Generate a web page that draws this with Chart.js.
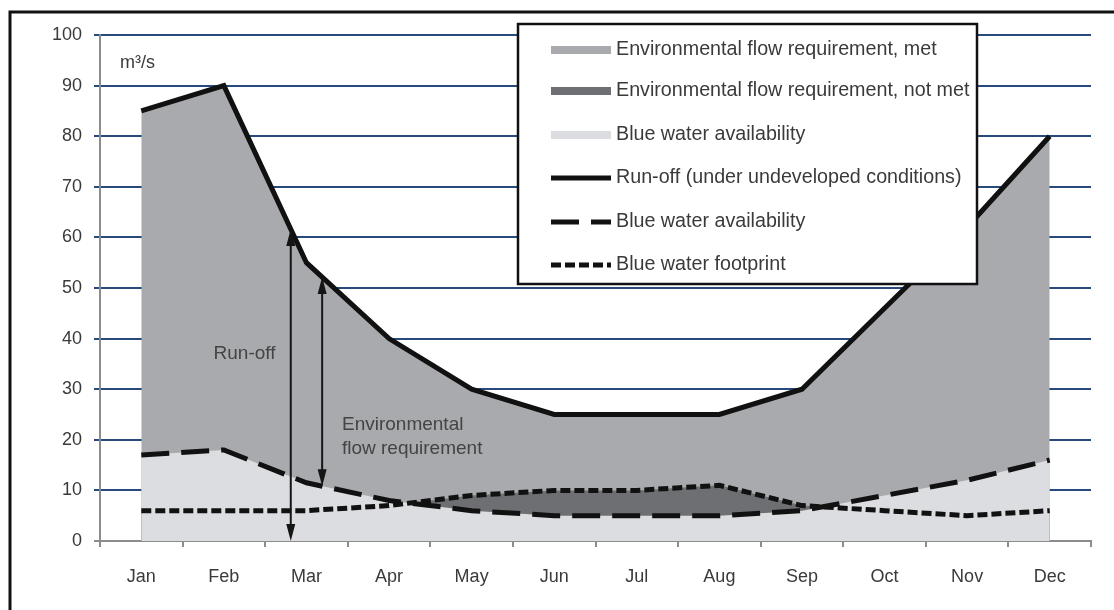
<!DOCTYPE html>
<html><head><meta charset="utf-8">
<script src="https://cdn.jsdelivr.net/npm/chart.js@4.4.1/dist/chart.umd.min.js"></script>
<style>html,body{margin:0;padding:0;background:#fff;}canvas{display:block;}</style>
</head><body>
<canvas id="c" width="1114" height="610" style="width:1114px;height:610px"></canvas>
<script>
// ---- data ----
const months = ['Jan','Feb','Mar','Apr','May','Jun','Jul','Aug','Sep','Oct','Nov','Dec'];
const runoff = [85, 90, 55, 40, 30, 25, 25, 25, 30, 46, 62, 80];
const availability = [17, 18, 11.5, 8, 6, 5, 5, 5, 6, 9, 12, 16];
const footprint = [6, 6, 6, 7, 9, 10, 10, 11, 7, 6, 5, 6];
const yMin = 0, yMax = 100, yStep = 10;
const unitLabel = 'm³/s';
const legendLabels = [
  'Environmental flow requirement, met',
  'Environmental flow requirement, not met',
  'Blue water availability',
  'Run-off (under undeveloped conditions)',
  'Blue water availability',
  'Blue water footprint'
];
const annoRunoffText = ['Run-off'];
const annoEfrText = ['Environmental', 'flow requirement'];
// arrow positions in category units (between Feb and Mar)
const runoffArrowAt = 1.81;
const efrArrowAt = 2.19;

// ---- style ----
const FONT = "'Liberation Sans', Arial, sans-serif";
const metColor = '#a8aaad';
const notMetColor = '#6e6f72';
const lightColor = '#dcdde0';
const gridColor = '#28497c';
const axisColor = '#8c8c8c';
const textColor = '#3a3a3a';

function interp(arr, t) {
  const i = Math.floor(t), f = t - i;
  return arr[i] + (arr[Math.min(i + 1, arr.length - 1)] - arr[i]) * f;
}

function head(ctx, px, py, dir) {
  ctx.beginPath();
  ctx.moveTo(px, py);
  ctx.lineTo(px - 4.5, py - dir * 17);
  ctx.lineTo(px + 4.5, py - dir * 17);
  ctx.closePath();
  ctx.fill();
}
function arrow(ctx, px, yBottom, yTop) {
  ctx.beginPath();
  ctx.moveTo(px, yBottom - 6);
  ctx.lineTo(px, yTop + 6);
  ctx.stroke();
  head(ctx, px, yTop, -1);
  head(ctx, px, yBottom, 1);
}

const decor = {
  id: 'decor',
  afterDatasetsDraw(chart) {
    const { ctx } = chart;
    const x = chart.scales.x, y = chart.scales.y;
    ctx.save();
    ctx.strokeStyle = '#151515';
    ctx.fillStyle = '#151515';
    ctx.lineWidth = 2;
    // Run-off arrow
    const rx = x.getPixelForValue(runoffArrowAt);
    arrow(ctx, rx, y.getPixelForValue(0), y.getPixelForValue(interp(runoff, runoffArrowAt)));
    // EFR arrow
    const ex = x.getPixelForValue(efrArrowAt);
    arrow(ctx, ex, y.getPixelForValue(interp(availability, efrArrowAt)), y.getPixelForValue(interp(runoff, efrArrowAt)));
    // annotation texts
    ctx.fillStyle = '#444';
    ctx.font = '19px ' + FONT;
    ctx.textBaseline = 'middle';
    ctx.textAlign = 'center';
    ctx.fillText(annoRunoffText[0], x.getPixelForValue(1.25), y.getPixelForValue(37.0));
    ctx.textAlign = 'left';
    ctx.fillText(annoEfrText[0], x.getPixelForValue(2.43), y.getPixelForValue(23.0));
    ctx.fillText(annoEfrText[1], x.getPixelForValue(2.43), y.getPixelForValue(18.3));
    // unit label
    ctx.fillStyle = textColor;
    ctx.font = '18px ' + FONT;
    ctx.fillText(unitLabel, chart.chartArea.left + 20, y.getPixelForValue(94.5));
    ctx.restore();
  },
  afterDraw(chart) {
    const { ctx } = chart;
    ctx.save();
    // legend box
    const bx = 518, by = 24, bw = 459, bh = 260;
    ctx.fillStyle = '#fff';
    ctx.fillRect(bx, by, bw, bh);
    ctx.strokeStyle = '#111';
    ctx.lineWidth = 2.5;
    ctx.strokeRect(bx, by, bw, bh);
    const styles = [
      { c: metColor, w: 8, d: [] },
      { c: notMetColor, w: 8, d: [] },
      { c: lightColor, w: 8, d: [] },
      { c: '#111', w: 5, d: [] },
      { c: '#111', w: 5, d: [28, 12] },
      { c: '#111', w: 5, d: [10, 4] }
    ];
    ctx.font = '19.7px ' + FONT;
    ctx.textBaseline = 'middle';
    ctx.textAlign = 'left';
    const rows = [50, 91, 135, 178, 222, 265];
    legendLabels.forEach((lab, i) => {
      const ry = rows[i];
      const s = styles[i];
      ctx.beginPath();
      ctx.strokeStyle = s.c;
      ctx.lineWidth = s.w;
      ctx.setLineDash(s.d);
      ctx.lineCap = 'butt';
      ctx.moveTo(551, ry);
      ctx.lineTo(611, ry);
      ctx.stroke();
      ctx.setLineDash([]);
      ctx.fillStyle = textColor;
      ctx.fillText(lab, 616, ry);
    });
    // outer frame (left and top)
    ctx.strokeStyle = '#111';
    ctx.lineWidth = 3;
    ctx.beginPath();
    ctx.moveTo(10, 620);
    ctx.lineTo(10, 12);
    ctx.lineTo(1120, 12);
    ctx.stroke();
    ctx.restore();
  }
};

Chart.defaults.font.family = FONT;
Chart.defaults.color = textColor;

new Chart(document.getElementById('c'), {
  type: 'line',
  data: {
    labels: months,
    datasets: [
      { label: 'Blue water availability', data: availability, borderColor: '#111', borderWidth: 5,
        borderDash: [28, 12], backgroundColor: lightColor, fill: 'origin', pointRadius: 0, tension: 0 },
      { label: 'Blue water footprint', data: footprint, borderColor: '#111', borderWidth: 5,
        borderDash: [10, 4], backgroundColor: notMetColor, fill: 'origin', pointRadius: 0, tension: 0 },
      { label: 'Run-off (under undeveloped conditions)', data: runoff, borderColor: '#111', borderWidth: 5,
        backgroundColor: metColor, fill: 'origin', pointRadius: 0, tension: 0 }
    ]
  },
  options: {
    responsive: false,
    animation: false,
    devicePixelRatio: 1,
    layout: { padding: { left: 0, top: 35, right: 23, bottom: 0 } },
    plugins: {
      legend: { display: false },
      tooltip: { enabled: false },
      filler: { drawTime: 'beforeDatasetsDraw' }
    },
    scales: {
      x: {
        type: 'category',
        offset: true,
        grid: { offset: true, drawOnChartArea: false, drawTicks: true, tickLength: 6, color: axisColor, lineWidth: 2 },
        border: { color: axisColor, width: 2 },
        ticks: { font: { size: 18 }, color: textColor, padding: 19, maxRotation: 0 },
        afterFit: s => { s.height = 69; }
      },
      y: {
        min: yMin, max: yMax,
        grid: {
          color: c => c.tick && c.tick.value === 0 ? 'rgba(0,0,0,0)' : gridColor,
          tickColor: c => c.tick && c.tick.value === 0 ? axisColor : gridColor,
          lineWidth: 2, tickLength: 6
        },
        border: { color: axisColor, width: 2 },
        ticks: { stepSize: yStep, font: { size: 18 }, color: textColor, padding: 12 },
        afterFit: s => { s.width = 100; }
      }
    }
  },
  plugins: [decor]
});
</script>
</body></html>
